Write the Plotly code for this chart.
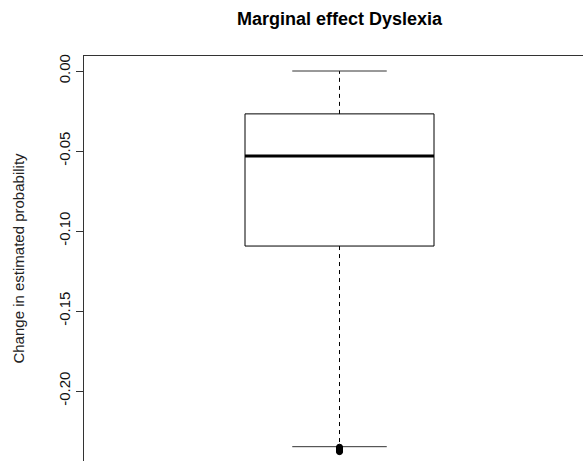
import plotly.graph_objects as go

# Boxplot statistics
position = [1.0]
upper_whisker = [0.0]
q3 = [-0.0268]
median = [-0.0531]
q1 = [-0.1094]
lower_whisker = [-0.2348]
outliers = [-0.2351, -0.2357, -0.2363, -0.2369, -0.2375, -0.2379]

title = "Marginal effect Dyslexia"
ytitle = "Change in estimated probability"
yticks = [0.00, -0.05, -0.10, -0.15, -0.20]
yticklabels = ["0.00", "-0.05", "-0.10", "-0.15", "-0.20"]

half_box = 0.4
half_cap = 0.2
ink = "black"

fig = go.Figure()
for i, x in enumerate(position):
    # box
    fig.add_trace(go.Scatter(
        x=[x - half_box, x + half_box, x + half_box, x - half_box, x - half_box],
        y=[q1[i], q1[i], q3[i], q3[i], q1[i]],
        mode="lines", line=dict(color=ink, width=1), hoverinfo="skip"))
    # median
    fig.add_trace(go.Scatter(
        x=[x - half_box, x + half_box], y=[median[i], median[i]],
        mode="lines", line=dict(color=ink, width=3), hoverinfo="skip"))
    # whiskers (dashed)
    fig.add_trace(go.Scatter(
        x=[x, x, None, x, x],
        y=[q3[i], upper_whisker[i], None, q1[i], lower_whisker[i]],
        mode="lines", line=dict(color=ink, width=1, dash="4px,4px"), hoverinfo="skip"))
    # caps
    fig.add_trace(go.Scatter(
        x=[x - half_cap, x + half_cap, None, x - half_cap, x + half_cap],
        y=[upper_whisker[i], upper_whisker[i], None, lower_whisker[i], lower_whisker[i]],
        mode="lines", line=dict(color="#333", width=1), hoverinfo="skip"))
    # outliers
    fig.add_trace(go.Scatter(
        x=[x] * len(outliers), y=outliers, mode="markers",
        marker=dict(symbol="circle", size=6, color=ink, line=dict(width=1, color=ink)),
        hoverinfo="skip"))

fig.add_annotation(
    x=position[0], xref="x", y=1, yref="paper", yshift=37,
    text="<b>" + title + "</b>", showarrow=False,
    font=dict(family="Liberation Sans, Arial", size=18, color="black"),
    yanchor="middle")

fig.update_layout(
    width=583, height=461,
    margin=dict(l=84, r=0, t=56, b=0),
    paper_bgcolor="white", plot_bgcolor="white",
    showlegend=False,
    font=dict(family="Liberation Sans, Arial", size=15, color="#222"),
    xaxis=dict(range=[-0.0815, 2.0307], side="top", showline=True,
               linecolor="#333", linewidth=1, showgrid=False, zeroline=False,
               showticklabels=False, ticks=""),
    yaxis=dict(range=[-0.24375, 0.009375], showline=True, linecolor="#333",
               linewidth=1, showgrid=False, zeroline=False,
               tickvals=yticks, ticktext=yticklabels, ticks="outside",
               ticklen=7, tickcolor="#333", tickangle=-90,
               tickfont=dict(size=15, color="#111"),
               title=dict(text=ytitle, standoff=27,
                          font=dict(size=15, color="#222"))),
)

fig.write_html("out.html")
